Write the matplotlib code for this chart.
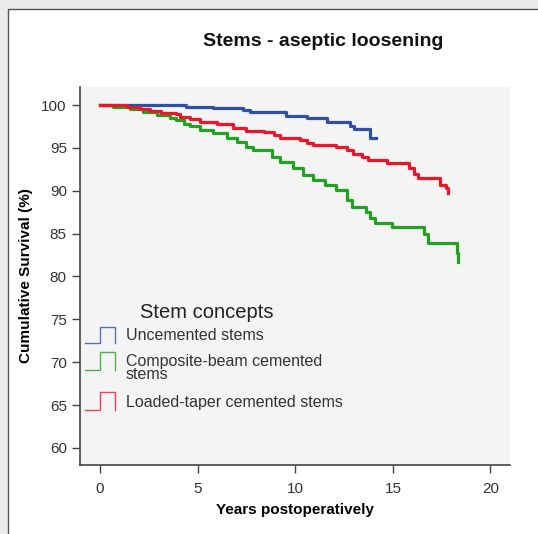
import matplotlib.pyplot as plt
from matplotlib.patches import Rectangle
from matplotlib.lines import Line2D

plt.rcParams['font.family'] = ['Liberation Sans', 'DejaVu Sans']

# Kaplan-Meier step data (years, cumulative survival %)
t_unc = [0, 4.4, 5.8, 7.3, 7.7, 9.5, 10.6, 11.6, 12.8, 13.0, 13.85, 14.15]
s_unc = [100, 99.8, 99.6, 99.4, 99.15, 98.75, 98.45, 98.0, 97.5, 97.2, 96.1, 96.1]

t_lt = [0, 1.4, 2.05, 2.56, 3.1, 3.9, 4.1, 4.6, 5.1, 6.0, 6.8, 7.5, 8.4, 8.9, 9.2,
        10.25, 10.6, 10.9, 12.1, 12.65, 12.97, 13.4, 13.7, 14.7, 15.8, 16.06, 16.3,
        17.4, 17.7, 17.8]
s_lt = [100, 99.8, 99.5, 99.3, 99.1, 98.95, 98.64, 98.33, 98.05, 97.75, 97.28, 97.0,
        96.8, 96.5, 96.1, 95.9, 95.6, 95.3, 95.1, 94.7, 94.3, 93.9, 93.6, 93.2, 92.6,
        92.0, 91.5, 90.7, 90.3, 89.7]

t_cb = [0, 0.68, 1.54, 2.2, 2.9, 3.6, 3.9, 4.3, 4.6, 5.1, 5.8, 6.5, 7.0, 7.5, 7.85,
        8.55, 8.8, 9.2, 9.9, 10.4, 10.9, 11.5, 12.1, 12.65, 12.9, 13.6, 13.85, 14.1,
        14.96, 16.6, 16.8, 18.3, 18.35]
s_cb = [100, 99.8, 99.5, 99.2, 98.8, 98.5, 98.2, 97.8, 97.5, 97.1, 96.7, 96.2, 95.7,
        95.1, 94.8, 94.7, 93.9, 93.35, 92.65, 91.8, 91.25, 90.7, 90.1, 88.9, 88.1,
        87.55, 86.8, 86.2, 85.8, 85.0, 83.9, 82.7, 81.7]

labels = ['Uncemented stems', 'Composite-beam cemented\nstems', 'Loaded-taper cemented stems']
col_blue = '#2f4fa0'
col_green = '#24a024'
col_red = '#e8182a'

W, H = 538, 534
fig = plt.figure(figsize=(W / 100, H / 100), dpi=100, facecolor='#ebebeb')

def fx(x):
    return x / W

def fy(y):
    return 1 - y / H

# white panel with border
panel = Rectangle((fx(8), -0.05), 1.2, fy(9) + 0.05, transform=fig.transFigure,
                  facecolor='white', edgecolor='#555555', lw=1.0, zorder=-10)
fig.add_artist(panel)

ax = fig.add_axes([fx(80), fy(465), (510 - 80) / W, (465 - 87) / H])
ax.set_zorder(1)
ax.set_facecolor('#f4f4f4')

ax.plot(t_unc, s_unc, drawstyle='steps-post', color=col_blue, lw=2.3)
ax.plot(t_cb, s_cb, drawstyle='steps-post', color=col_green, lw=2.3)
ax.plot(t_lt, s_lt, drawstyle='steps-post', color=col_red, lw=2.3)

ax.set_xlim(-1.03, 21.0)
ax.set_ylim(58.0, 102.1)
ax.set_xticks([0, 5, 10, 15, 20])
ax.set_yticks([60, 65, 70, 75, 80, 85, 90, 95, 100])
for s in ['top', 'right']:
    ax.spines[s].set_visible(False)
for s in ['left', 'bottom']:
    ax.spines[s].set_color('#444444')
    ax.spines[s].set_linewidth(1.2)
ax.tick_params(axis='both', colors='#444444', labelcolor='#333333', labelsize=11,
               length=6, width=1.0)
ax.tick_params(axis='x', pad=6)

ax.set_xlabel('Years postoperatively', fontsize=11, fontweight='bold', labelpad=5)
ax.set_ylabel('Cumulative Survival (%)', fontsize=11, fontweight='bold', labelpad=6)

fig.text(fx(323), fy(42), 'Stems - aseptic loosening', fontsize=14, fontweight='bold',
         ha='center', va='center', color='#111111', zorder=5)

# legend drawn by hand with step-shaped icons
fig.text(fx(207), fy(313), 'Stem concepts', fontsize=14.5, ha='center', va='center',
         color='#222222', zorder=5)
leg = [(col_blue, 343, 327, 335, labels[0]),
       (col_green, 370, 352, 368, labels[1]),
       (col_red, 410, 392, 402, labels[2])]
for c, ylo, yhi, ytxt, lab in leg:
    xs = [fx(85), fx(100), fx(100), fx(115), fx(115)]
    ys = [fy(ylo), fy(ylo), fy(yhi), fy(yhi), fy(ylo)]
    ln = Line2D(xs, ys, color=c, lw=1.0, alpha=0.8, transform=fig.transFigure, zorder=5)
    fig.add_artist(ln)
    fig.text(fx(126), fy(ytxt), lab, fontsize=11.5, ha='left', va='center',
             color='#333333', linespacing=0.85, zorder=5)

plt.savefig('out.png', dpi=100, facecolor=fig.get_facecolor())
